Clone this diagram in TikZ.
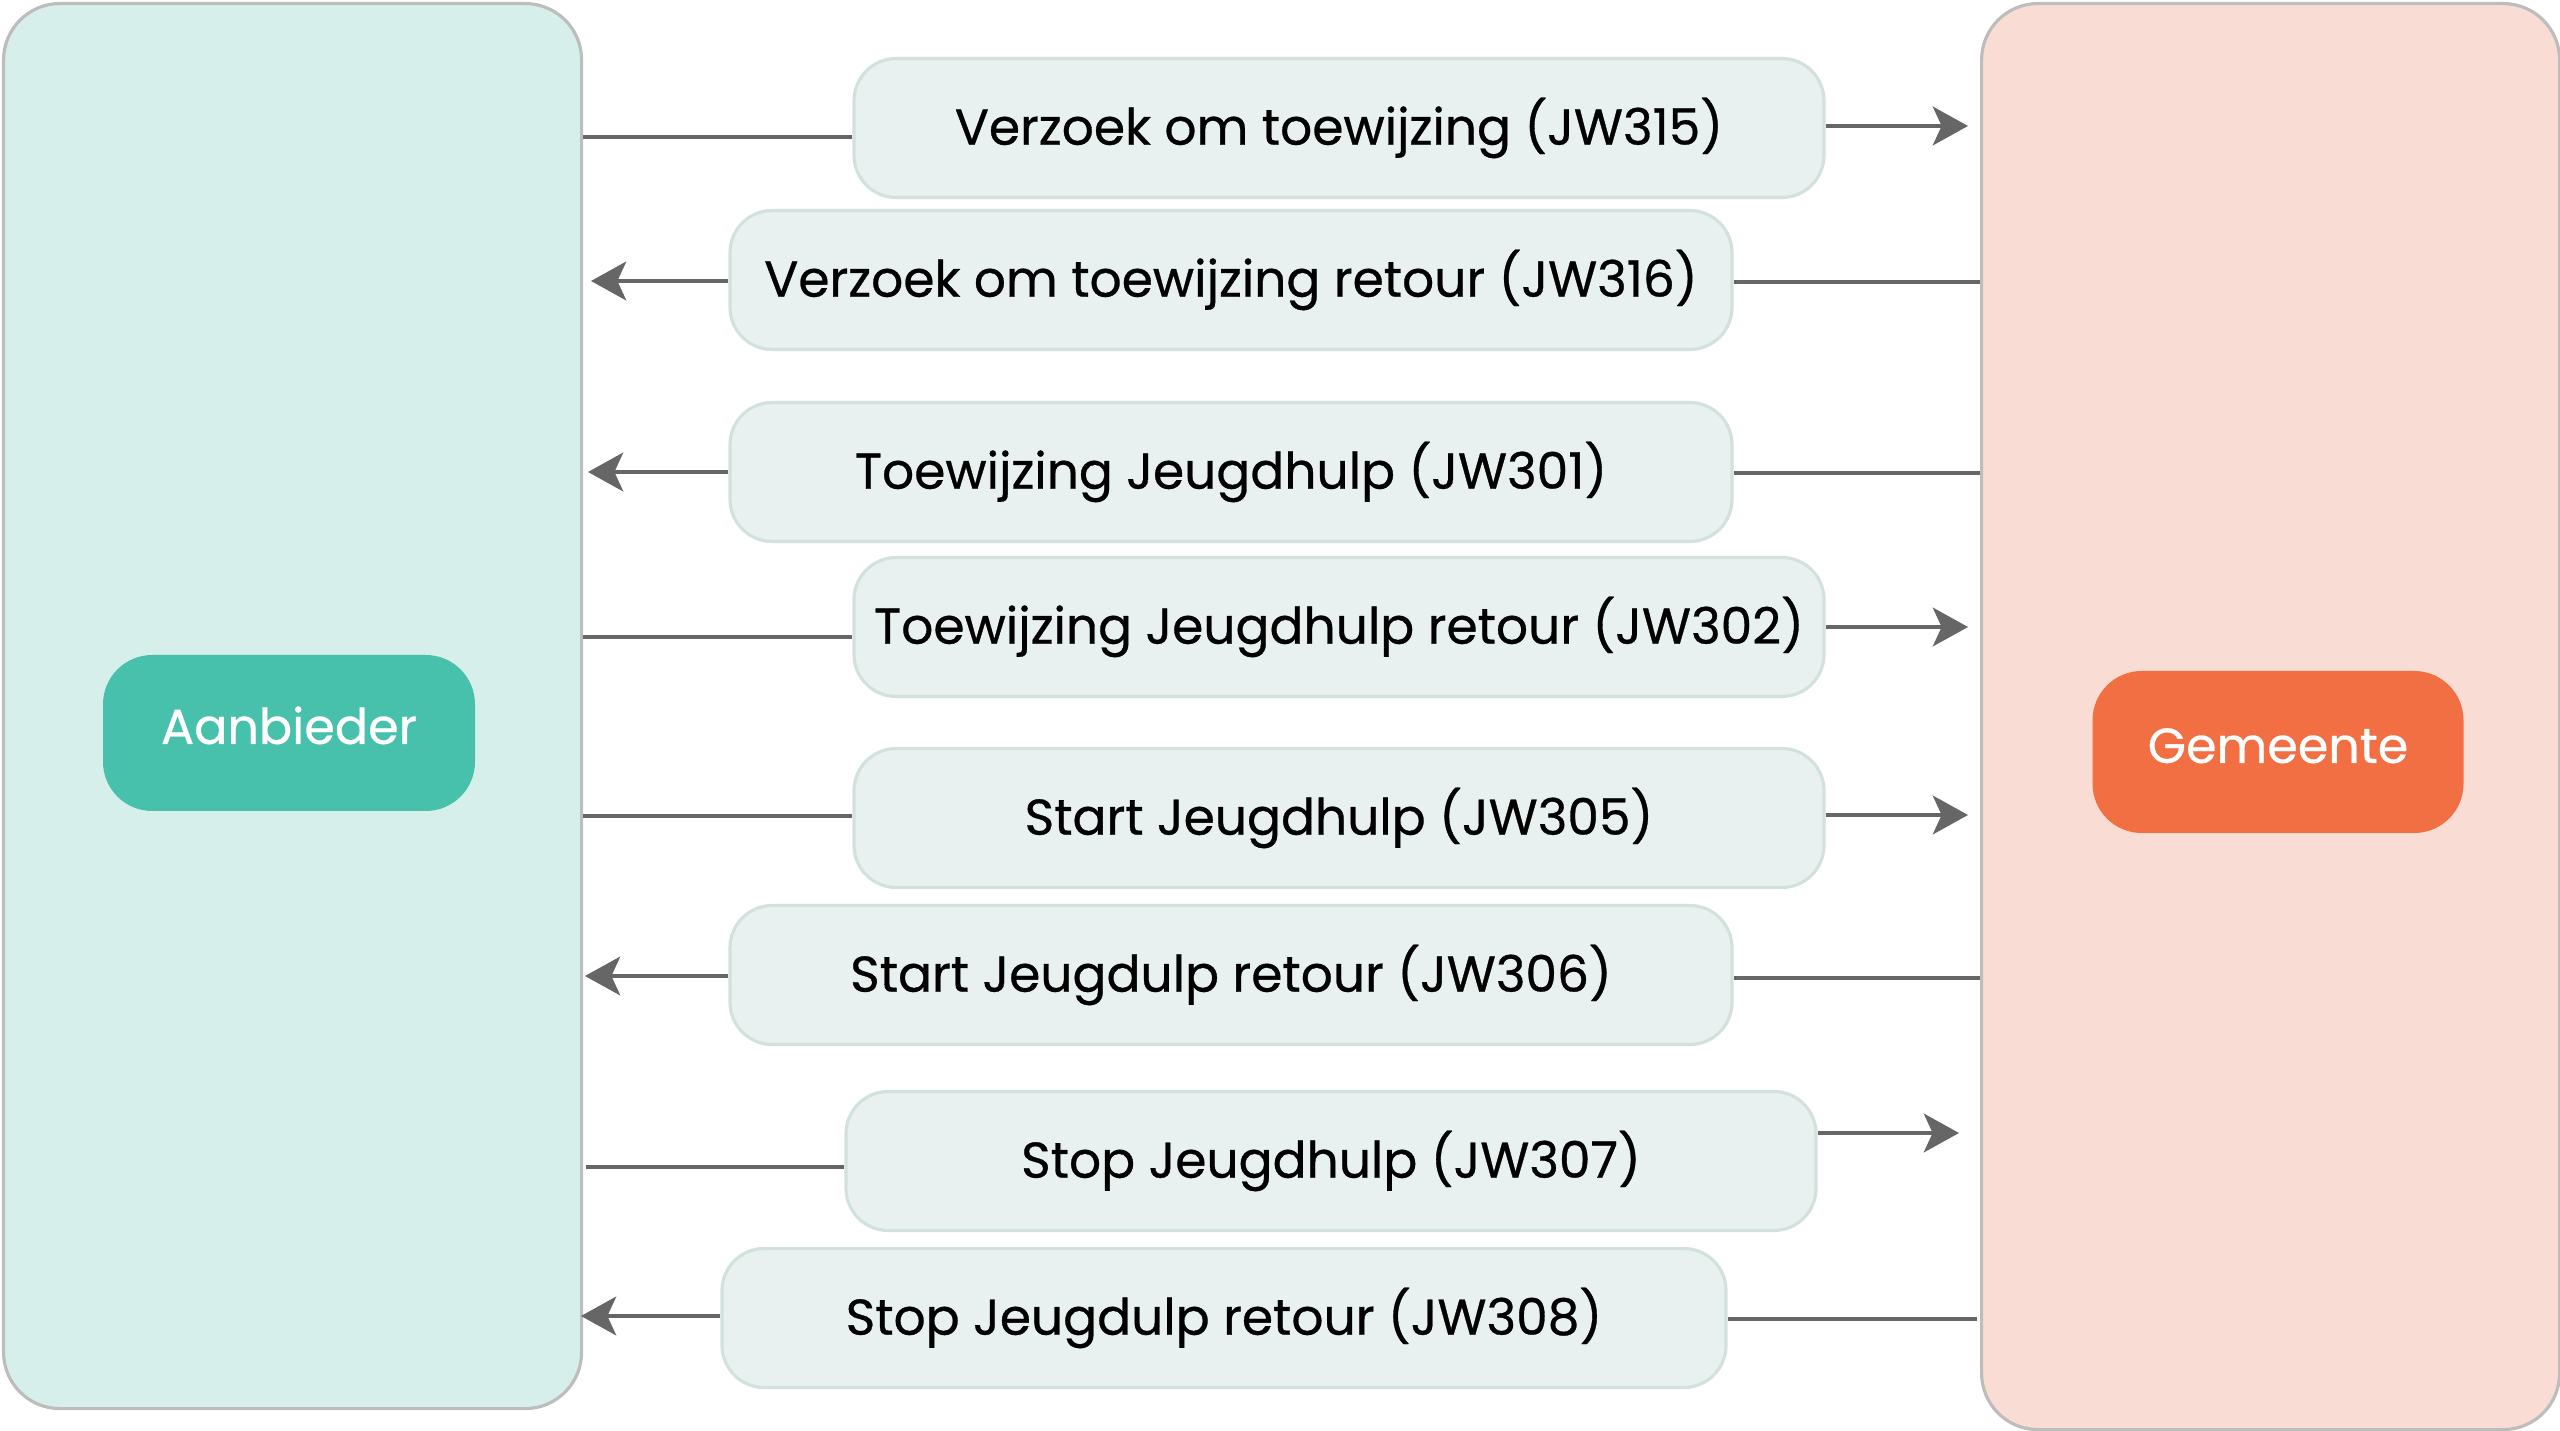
\documentclass[tikz,border=0pt]{standalone}
\usepackage{fontspec}
\setmainfont{Poppins}[FakeBold=0.6]
\usetikzlibrary{arrows.meta}
\definecolor{leftfill}{HTML}{D7EFEA}
\definecolor{rightfill}{HTML}{F9DCD3}
\definecolor{panelborder}{HTML}{BDBDBD}
\definecolor{msgfill}{HTML}{E8F1EF}
\definecolor{msgborder}{HTML}{D3E1DD}
\definecolor{tealbtn}{HTML}{48C1AC}
\definecolor{orangebtn}{HTML}{F26F43}
\definecolor{linegray}{HTML}{666666}
\newcommand{\btntext}[1]{\raisebox{-3.1pt}[0pt][0pt]{#1}}
\tikzset{
  panel/.style={draw=panelborder, line width=0.9pt, rounded corners=16pt, inner sep=0pt, anchor=north west},
  btn/.style={rounded corners=14pt, inner sep=0pt, text=white, font=\fontsize{14}{17}\selectfont},
  msg/.style={draw=msgborder, fill=msgfill, line width=0.9pt, rounded corners=12pt, inner sep=0pt, font=\fontsize{14.3}{17}\selectfont},
  conn/.style={draw=linegray, line width=1.2pt},
  arr/.style={conn, -{Stealth[length=10pt, width=11pt, inset=2.5pt]}}
}
\begin{document}
\begin{tikzpicture}[x=0.01cm, y=-0.01cm]
\useasboundingbox (0,0) rectangle (2560,1431);
% panels
\node[panel, fill=leftfill, minimum width=578*0.01cm, minimum height=1405*0.01cm] (L) at (2,2) {};
\node[panel, fill=rightfill, minimum width=578*0.01cm, minimum height=1426*0.01cm] (R) at (1980,2) {};
% actors
\node[btn, fill=tealbtn, minimum width=372*0.01cm, minimum height=156*0.01cm] (aan) at (289,733) {\btntext{Aanbieder}};
\node[btn, fill=orangebtn, minimum width=371*0.01cm, minimum height=162*0.01cm] (gem) at (2278,752) {\btntext{Gemeente}};
% messages
\node[msg, minimum width=970*0.01cm, minimum height=139*0.01cm] (m1) at (1339,128) {Verzoek om toewijzing (JW315)};
\node[msg, minimum width=1002*0.01cm, minimum height=139*0.01cm] (m2) at (1231,280) {Verzoek om toewijzing retour (JW316)};
\node[msg, minimum width=1002*0.01cm, minimum height=139*0.01cm] (m3) at (1231,472) {Toewijzing Jeugdhulp (JW301)};
\node[msg, minimum width=970*0.01cm, minimum height=139*0.01cm] (m4) at (1339,627) {Toewijzing Jeugdhulp retour (JW302)};
\node[msg, minimum width=970*0.01cm, minimum height=139*0.01cm] (m5) at (1339,818) {Start Jeugdhulp (JW305)};
\node[msg, minimum width=1002*0.01cm, minimum height=139*0.01cm] (m6) at (1231,975) {Start Jeugdulp retour (JW306)};
\node[msg, minimum width=970*0.01cm, minimum height=139*0.01cm] (m7) at (1331,1161) {Stop Jeugdhulp (JW307)};
\node[msg, minimum width=1004*0.01cm, minimum height=139*0.01cm] (m8) at (1224,1318) {Stop Jeugdulp retour (JW308)};
% free arrow ends
\coordinate (r1) at (1968,126);
\coordinate (r4) at (1968,627);
\coordinate (r5) at (1968,815);
\coordinate (r7) at (1959,1133);
\coordinate (l2) at (591,281);
\coordinate (l3) at (588,472);
\coordinate (l6) at (585,976);
\coordinate (l8) at (581,1316);
\coordinate (s7) at (586,1167);
% connectors: Aanbieder -> Gemeente
\draw[conn] (L.east |- 0,137) -- (m1.west |- 0,137);
\draw[arr] (m1.east |- r1) -- (r1);
\draw[conn] (L.east |- 0,637) -- (m4.west |- 0,637);
\draw[arr] (m4.east |- r4) -- (r4);
\draw[conn] (L.east |- 0,816) -- (m5.west |- 0,816);
\draw[arr] (m5.east |- r5) -- (r5);
\draw[conn] (s7) -- (m7.west |- s7);
\draw[arr] (m7.east |- r7) -- (r7);
% connectors: Gemeente -> Aanbieder
\draw[conn] (R.west |- 0,282) -- (m2.east |- 0,282);
\draw[arr] (m2.west |- l2) -- (l2);
\draw[conn] (R.west |- 0,473) -- (m3.east |- 0,473);
\draw[arr] (m3.west |- l3) -- (l3);
\draw[conn] (R.west |- 0,978) -- (m6.east |- 0,978);
\draw[arr] (m6.west |- l6) -- (l6);
\draw[conn] (1977,1319) -- (m8.east |- 0,1319);
\draw[arr] (m8.west |- l8) -- (l8);
\end{tikzpicture}
\end{document}
